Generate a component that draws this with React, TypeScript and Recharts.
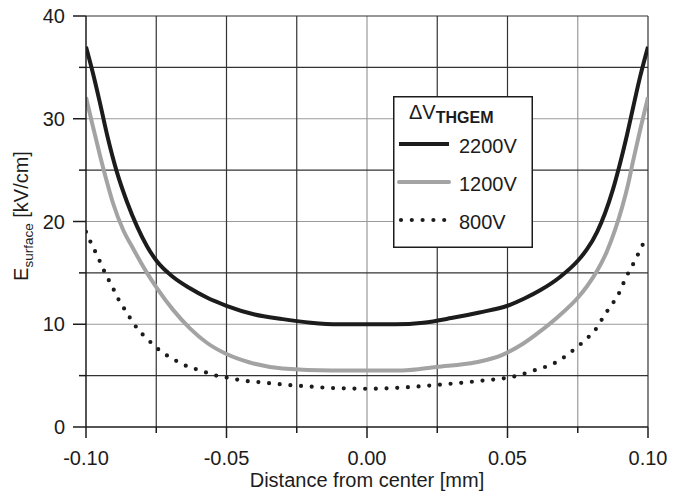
import React from 'react';
import { LineChart, Line, XAxis, YAxis, CartesianGrid, Legend } from 'recharts';

// ---- data ----
const x2200 = [-0.1, -0.0975, -0.095, -0.0922, -0.089, -0.0854, -0.0818, -0.0783, -0.0747, -0.069, -0.063, -0.057, -0.05, -0.04, -0.03, -0.02, -0.01, 0, 0.01, 0.02, 0.03, 0.04, 0.05, 0.056, 0.0616, 0.0687, 0.0751, 0.0783, 0.0819, 0.0847, 0.0875, 0.09, 0.0925, 0.0947, 0.0972, 0.1];
const y2200 = [37, 34.4, 31.5, 28.1, 24.8, 21.9, 19.5, 17.6, 16.1, 14.6, 13.5, 12.6, 11.8, 10.95, 10.5, 10.15, 10.0, 10.0, 10.0, 10.15, 10.6, 11.15, 11.8, 12.5, 13.3, 14.6, 16.2, 17.3, 19.0, 20.8, 23.1, 25.6, 28.4, 31.1, 34.1, 37];

const x1200 = [-0.1, -0.0975, -0.095, -0.0925, -0.0904, -0.0868, -0.0833, -0.0783, -0.0747, -0.069, -0.063, -0.057, -0.05, -0.042, -0.03, -0.0125, 0, 0.0125, 0.0246, 0.0388, 0.048, 0.0555, 0.0616, 0.0687, 0.0751, 0.0783, 0.0819, 0.0854, 0.0883, 0.0907, 0.0929, 0.0947, 0.0972, 0.1];
const y1200 = [32.1, 29.2, 26.4, 23.8, 21.8, 19.2, 17.4, 15.0, 13.5, 11.4, 9.6, 8.2, 7.1, 6.3, 5.7, 5.5, 5.5, 5.5, 5.85, 6.3, 7.0, 8.1, 9.3, 10.9, 12.6, 13.7, 15.2, 17.1, 19.2, 21.3, 23.6, 25.9, 28.9, 32.1];

const x800 = [-0.1, -0.0982, -0.0964, -0.0947, -0.0929, -0.0907, -0.089, -0.0868, -0.0843, -0.0815, -0.0783, -0.0744, -0.0708, -0.0669, -0.063, -0.0591, -0.0552, -0.0516, -0.0477, -0.0438, -0.0399, -0.036, -0.0324, -0.0285, -0.021, -0.0132, -0.006, 0, 0.01, 0.025, 0.0406, 0.052, 0.0594, 0.0673, 0.0744, 0.0786, 0.0819, 0.0843, 0.0868, 0.0893, 0.0911, 0.093, 0.095, 0.0968, 0.0986, 0.1];
const y800 = [19.0, 17.9, 16.9, 15.9, 14.8, 13.7, 12.7, 11.7, 10.6, 9.5, 8.6, 7.6, 6.9, 6.3, 5.8, 5.5, 5.1, 4.9, 4.7, 4.5, 4.4, 4.3, 4.2, 4.1, 3.95, 3.8, 3.75, 3.72, 3.8, 4.1, 4.5, 4.9, 5.5, 6.3, 7.7, 8.7, 9.7, 10.8, 11.8, 12.8, 13.9, 15.0, 16.0, 17.0, 18.0, 18.6];

const seriesNames = ['2200V', '1200V', '800V'];
const xTicks = [-0.1, -0.075, -0.05, -0.025, 0, 0.025, 0.05, 0.075, 0.1];
const xTickLabels = ['-0.10', '', '-0.05', '', '0.00', '', '0.05', '', '0.10'];
const yTicks = [0, 5, 10, 15, 20, 25, 30, 35, 40];
const yTickLabels = ['0', '', '10', '', '20', '', '30', '', '40'];
const gridDarkY = [5, 15, 25, 35, 40];
const gridLightY = [10, 20, 30];
const gridDarkX = [-0.075, -0.05, -0.025, 0.025, 0.05, 0.1];
const gridLightX = [0, 0.075];

const toData = (xs: number[], ys: number[]) => xs.map((x, i) => ({ x, y: ys[i] }));
const data2200 = toData(x2200, y2200);
const data1200 = toData(x1200, y1200);
const data800 = toData(x800, y800);

const FONT = '"Liberation Sans", Arial, Helvetica, sans-serif';
const INK = '#1c1c1c';
const GRAY = '#a3a3a3';

const XTick = (props: any) => {
  const { x, y, payload } = props;
  const i = xTicks.findIndex((t) => Math.abs(t - payload.value) < 1e-9);
  const major = i % 2 === 0;
  return (
    <g>
      <line x1={x} x2={x} y1={y} y2={y + (major ? 11 : 6)} stroke={INK} strokeWidth={1.5} />
      {major && (
        <text x={x} y={y + 38} textAnchor="middle" fontSize={20} fontFamily={FONT} fill={INK}>
          {xTickLabels[i]}
        </text>
      )}
    </g>
  );
};

const YTick = (props: any) => {
  const { x, y, payload } = props;
  const i = yTicks.findIndex((t) => Math.abs(t - payload.value) < 1e-9);
  const major = i % 2 === 0;
  return (
    <g>
      <line x1={x - (major ? 13 : 7)} x2={x} y1={y} y2={y} stroke={INK} strokeWidth={1.5} />
      {major && (
        <text x={x - 21} y={y + 7} textAnchor="end" fontSize={20} fontFamily={FONT} fill={INK}>
          {yTickLabels[i]}
        </text>
      )}
    </g>
  );
};

const renderYLabel = () => (
  <text
    x={28}
    y={216}
    transform="rotate(-90, 28, 216)"
    textAnchor="middle"
    fontFamily={FONT}
    fill={INK}
    fontSize={20}
  >
    <tspan>E</tspan>
    <tspan fontSize={13.5} dy={5}>surface</tspan>
    <tspan dy={-5}> [kV/cm]</tspan>
  </text>
);

const renderXLabel = () => (
  <text x={367} y={487} textAnchor="middle" fontFamily={FONT} fill={INK} fontSize={20}>
    Distance from center [mm]
  </text>
);

const renderLegend = () => (
  <svg width={140} height={152} style={{ display: 'block' }}>
    <rect x={0.75} y={0.75} width={138.5} height={150.5} fill="#fff" stroke={INK} strokeWidth={1.5} />
    <text x={16} y={23} fontFamily={FONT} fontSize={20} fill={INK}>
      <tspan>ΔV</tspan>
      <tspan fontSize={16} fontWeight="bold" dy={4}>THGEM</tspan>
    </text>
    <line x1={6} x2={56} y1={48} y2={48} stroke={INK} strokeWidth={4} />
    <text x={66} y={57} fontFamily={FONT} fontSize={20} fill={INK}>{seriesNames[0]}</text>
    <line x1={6} x2={56} y1={86} y2={86} stroke={GRAY} strokeWidth={4} strokeLinecap="round" />
    <text x={66} y={95} fontFamily={FONT} fontSize={20} fill={INK}>{seriesNames[1]}</text>
    <line x1={8} x2={52} y1={124} y2={124} stroke={INK} strokeWidth={4.2} strokeLinecap="round" strokeDasharray="0 10.8" />
    <text x={66} y={133} fontFamily={FONT} fontSize={20} fill={INK}>{seriesNames[2]}</text>
  </svg>
);

export default function App() {
  return (
    <div style={{ position: 'absolute', left: 0, top: 0, background: '#fff' }}>
      <LineChart width={686} height={500} margin={{ top: 16, right: 38, left: 0, bottom: 0 }}>
        <CartesianGrid horizontalValues={gridLightY} verticalValues={gridLightX} stroke="#9a9a9a" strokeWidth={1.2} />
        <CartesianGrid horizontalValues={gridDarkY} verticalValues={gridDarkX} stroke="#333333" strokeWidth={1.2} />
        <XAxis
          dataKey="x"
          type="number"
          domain={[-0.1, 0.1]}
          ticks={xTicks}
          interval={0}
          height={73}
          tickSize={0}
          tickMargin={0}
          tickLine={false}
          axisLine={{ stroke: INK, strokeWidth: 1.5 }}
          tick={<XTick />}
          allowDataOverflow
          label={{ content: renderXLabel }}
        />
        <YAxis
          type="number"
          domain={[0, 40]}
          ticks={yTicks}
          interval={0}
          width={86}
          tickSize={0}
          tickMargin={0}
          tickLine={false}
          axisLine={{ stroke: INK, strokeWidth: 1.5 }}
          tick={<YTick />}
          allowDataOverflow
          label={{ content: renderYLabel }}
        />
        <Legend
          layout="vertical"
          align="center"
          verticalAlign="middle"
          content={renderLegend}
          wrapperStyle={{ position: 'absolute', left: 393, top: 96, width: 140, height: 152 }}
        />
        <Line data={data800} dataKey="y" name={seriesNames[2]} type="monotone" stroke={INK} strokeWidth={4.2} strokeLinecap="round" strokeDasharray="0 10.7" dot={false} isAnimationActive={false} />
        <Line data={data1200} dataKey="y" name={seriesNames[1]} type="monotone" stroke={GRAY} strokeWidth={4} dot={false} isAnimationActive={false} />
        <Line data={data2200} dataKey="y" name={seriesNames[0]} type="monotone" stroke={INK} strokeWidth={4} dot={false} isAnimationActive={false} />
      </LineChart>
    </div>
  );
}
